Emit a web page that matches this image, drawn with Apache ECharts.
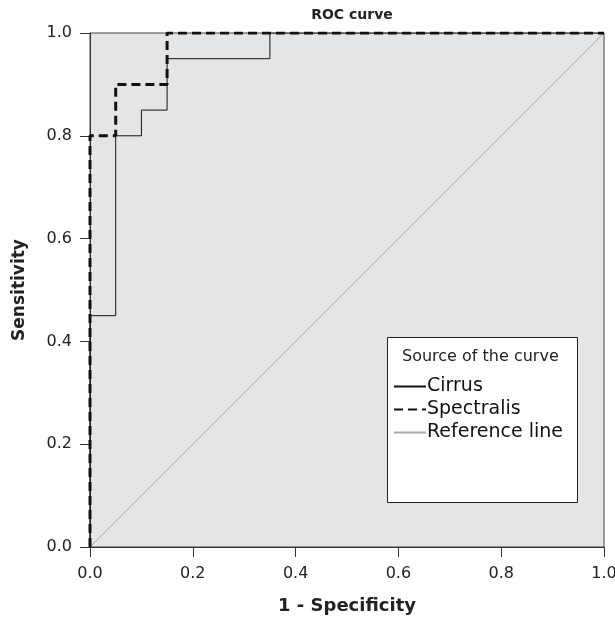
<!DOCTYPE html>
<html><head><meta charset="utf-8">
<script src="https://cdn.jsdelivr.net/npm/echarts@6/dist/echarts.min.js"></script>
<style>html,body{margin:0;padding:0;background:#fff}#c{width:615px;height:619px}</style>
</head><body><div id="c"></div>
<script>
const cirrusFPR = [0, 0, 0.05, 0.05, 0.10, 0.10, 0.15, 0.15, 0.35, 0.35, 1.0];
const cirrusTPR = [0, 0.45, 0.45, 0.80, 0.80, 0.85, 0.85, 0.95, 0.95, 1.0, 1.0];
const specFPR = [0, 0, 0.05, 0.05, 0.15, 0.15, 1.0];
const specTPR = [0, 0.80, 0.80, 0.90, 0.90, 1.0, 1.0];
const refFPR = [0, 1];
const refTPR = [0, 1];
const seriesNames = ['Cirrus', 'Spectralis', 'Reference line'];

const zip = (a, b) => a.map((v, i) => [v, b[i]]);
const font = 'DejaVu Sans';
const chart = echarts.init(document.getElementById('c'));
chart.setOption({
  animation: false,
  title: { text: 'ROC curve', left: 347, top: 3, textAlign: 'center',
    textStyle: { fontFamily: font, fontSize: 14, fontWeight: 'bold', color: '#222' } },
  grid: { left: 90, right: 11, top: 33, bottom: 72, outerBoundsMode: 'none', containLabel: false,
    show: true, backgroundColor: '#e4e5e7', borderColor: '#444', borderWidth: 1 },
  xAxis: { type: 'value', min: 0, max: 1, interval: 0.2, name: '1 - Specificity', nameLocation: 'middle', nameGap: 50,
    nameTextStyle: { fontFamily: font, fontSize: 18, fontWeight: 'bold', color: '#222' },
    axisLine: { lineStyle: { color: '#333', width: 1 } }, axisTick: { length: 10, lineStyle: { color: '#333' } },
    axisLabel: { fontFamily: font, fontSize: 16, color: '#222', margin: 19, formatter: v => v.toFixed(1) },
    splitLine: { show: false } },
  yAxis: { type: 'value', min: 0, max: 1, interval: 0.2, name: 'Sensitivity', nameLocation: 'middle', nameGap: 62,
    nameTextStyle: { fontFamily: font, fontSize: 17, fontWeight: 'bold', color: '#222' },
    axisLine: { show: true, lineStyle: { color: '#333', width: 1 } }, axisTick: { show: true, length: 10, lineStyle: { color: '#333' } },
    axisLabel: { fontFamily: font, fontSize: 16, color: '#222', margin: 18, formatter: v => v.toFixed(1) },
    splitLine: { show: false } },
  legend: { orient: 'vertical', left: 388, top: 372, itemWidth: 32, itemHeight: 14, itemGap: 4,
    data: seriesNames,
    itemStyle: { color: 'transparent', borderColor: 'transparent', borderWidth: 0 },
    textStyle: { fontFamily: font, fontSize: 19, lineHeight: 19, color: '#111', padding: [0, 0, 0, -4] } },
  graphic: [
    { type: 'rect', z: 0, left: 387, top: 337, shape: { width: 190, height: 165 },
      style: { fill: '#fff', stroke: '#222', lineWidth: 1 } },
    { type: 'text', z: 1, left: 402, top: 349, style: { text: 'Source of the curve', font: '16px "DejaVu Sans"', fill: '#222' } }
  ],
  series: [
    { name: seriesNames[0], type: 'line', data: zip(cirrusFPR, cirrusTPR), symbol: 'none', z: 4,
      lineStyle: { color: '#111', width: 1 }, itemStyle: { color: '#111' } },
    { name: seriesNames[1], type: 'line', data: zip(specFPR, specTPR), symbol: 'none', z: 5,
      lineStyle: { color: '#111', width: 3, type: [9, 5] }, itemStyle: { color: '#111' } },
    { name: seriesNames[2], type: 'line', data: zip(refFPR, refTPR), symbol: 'none', z: 3,
      lineStyle: { color: '#aaa', width: 1 }, itemStyle: { color: '#aaa' } }
  ]
});
</script></body></html>
